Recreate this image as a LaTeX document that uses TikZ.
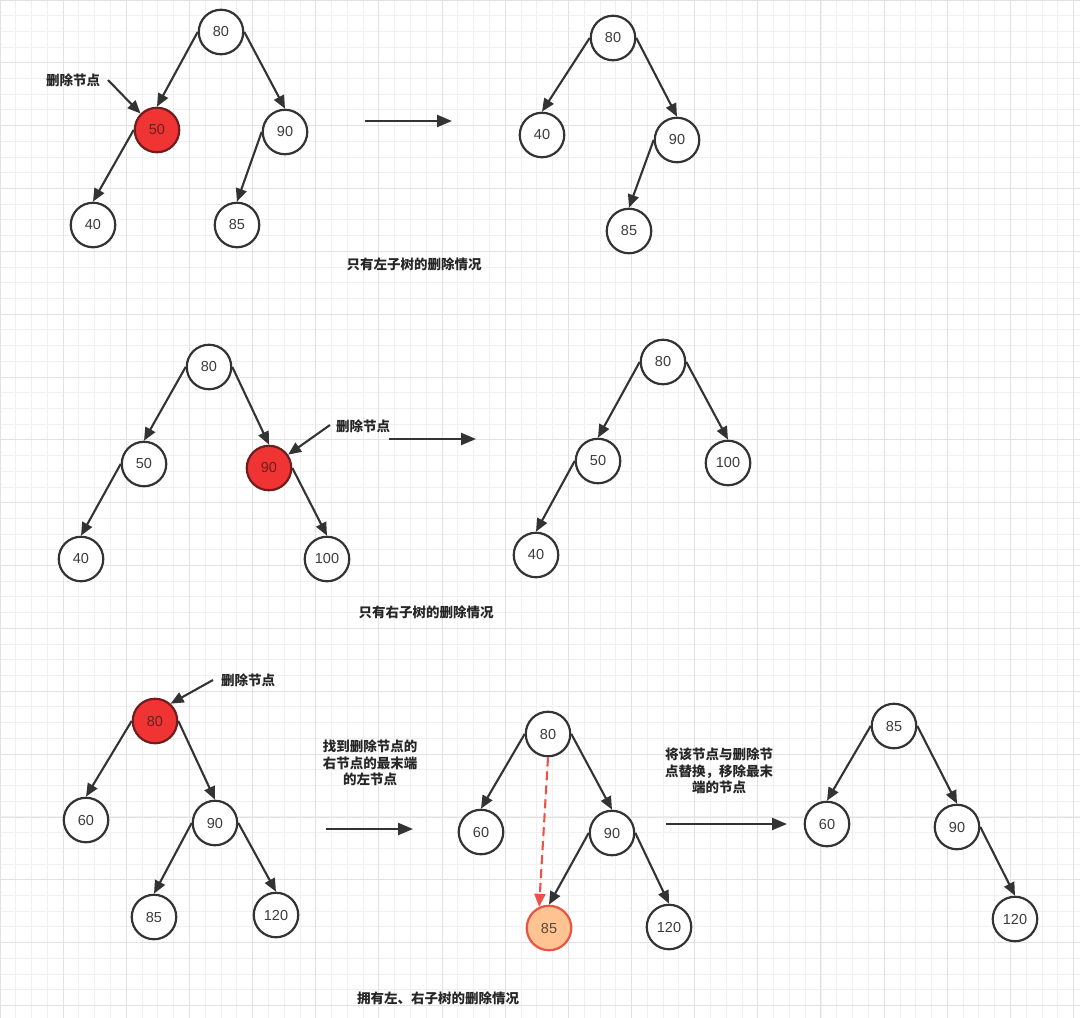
\documentclass[tikz,border=0pt]{standalone}
\usepackage{fontspec}
\setmainfont{Liberation Sans}
\newfontfamily\cjk{Noto Sans CJK SC}
\usetikzlibrary{arrows.meta}
\definecolor{linegray}{RGB}{51,51,51}
\definecolor{numgray}{RGB}{60,60,60}
\definecolor{delred}{RGB}{240,52,52}
\definecolor{delborder}{RGB}{110,30,30}
\definecolor{lastfill}{RGB}{255,196,146}
\definecolor{lastborder}{RGB}{236,82,70}
\definecolor{minorgrid}{RGB}{240,240,240}
\definecolor{majorgrid}{RGB}{226,226,226}
\begin{document}
\begin{tikzpicture}[x=1pt,y=-1pt,
	tnode/.style={circle,draw=linegray,line width=2.2pt,fill=white,minimum size=44.5pt,inner sep=0pt,text=numgray,font=\fontsize{14.5}{14.5}\selectfont},
	delnode/.style={tnode,fill=delred,draw=delborder,text=delborder},
	lastnode/.style={tnode,fill=lastfill,draw=lastborder,text=numgray!80!brown},
	link/.style={draw=linegray,line width=2.1pt,-{Triangle[length=13pt,width=11pt]}},
	move/.style={draw=linegray,line width=2.3pt,-{Triangle[length=15pt,width=12pt]}},
	note/.style={text=black!85,font=\cjk\bfseries\fontsize{13.5}{16.5}\selectfont,align=center,inner sep=0pt}]
	\useasboundingbox (0,0) rectangle (1080,1018);
	% background grid
	\foreach \i in {0,...,68} \draw[minorgrid,line width=1pt] (\i*15.79,0) -- (\i*15.79,1018);
	\foreach \j in {0,...,64} \draw[minorgrid,line width=1pt] (0,\j*15.71) -- (1080,\j*15.71);
	\foreach \i in {0,...,17} \draw[majorgrid,line width=1pt] (\i*63.15,0) -- (\i*63.15,1018);
	\foreach \j in {0,...,16} \draw[majorgrid,line width=1pt] (0,\j*62.85) -- (1080,\j*62.85);

	% only left subtree
	\node[tnode] (a80) at (221,32) {80};
	\node[delnode] (a50) at (157,130) {50};
	\node[tnode] (a90) at (285,132) {90};
	\node[tnode] (a40) at (93,225) {40};
	\node[tnode] (a85) at (237,225) {85};
	\draw[link] (a80.west) -- (a50.north);
	\draw[link] (a80.east) -- (a90.north);
	\draw[link] (a50.west) -- (a40.north);
	\draw[link] (a90.west) -- (a85.north);
	\node[note] (del1) at (73,80) {删除节点};
	\coordinate (del1s) at (108,80);
	\draw[link] (del1s) -- (a50.135);
	\coordinate (m1s) at (365,121);
	\coordinate (m1t) at (452,121);
	\draw[move] (m1s) -- (m1t);
	\node[tnode] (b80) at (613,38) {80};
	\node[tnode] (b40) at (542,135) {40};
	\node[tnode] (b90) at (677,140) {90};
	\node[tnode] (b85) at (629,231) {85};
	\draw[link] (b80.west) -- (b40.north);
	\draw[link] (b80.east) -- (b90.north);
	\draw[link] (b90.west) -- (b85.north);
	\node[note] (cap1) at (414,264) {只有左子树的删除情况};

	% only right subtree
	\node[tnode] (c80) at (209,367) {80};
	\node[tnode] (c50) at (144,464) {50};
	\node[delnode] (c90) at (269,468) {90};
	\node[tnode] (c40) at (81,559) {40};
	\node[tnode] (c100) at (327,559) {100};
	\draw[link] (c80.west) -- (c50.north);
	\draw[link] (c80.east) -- (c90.north);
	\draw[link] (c50.west) -- (c40.north);
	\draw[link] (c90.east) -- (c100.north);
	\node[note] (del2) at (363,426) {删除节点};
	\coordinate (del2s) at (330,425);
	\draw[link] (del2s) -- (c90.35);
	\coordinate (m2s) at (389,439);
	\coordinate (m2t) at (476,439);
	\draw[move] (m2s) -- (m2t);
	\node[tnode] (d80) at (663,362) {80};
	\node[tnode] (d50) at (598,461) {50};
	\node[tnode] (d100) at (728,463) {100};
	\node[tnode] (d40) at (536,555) {40};
	\draw[link] (d80.west) -- (d50.north);
	\draw[link] (d80.east) -- (d100.north);
	\draw[link] (d50.west) -- (d40.north);
	\node[note] (cap2) at (426,612) {只有右子树的删除情况};

	% both subtrees
	\node[delnode] (e80) at (155,721) {80};
	\node[tnode] (e60) at (86,820) {60};
	\node[tnode] (e90) at (215,823) {90};
	\node[tnode] (e85) at (154,917) {85};
	\node[tnode] (e120) at (276,915) {120};
	\draw[link] (e80.west) -- (e60.north);
	\draw[link] (e80.east) -- (e90.north);
	\draw[link] (e90.west) -- (e85.north);
	\draw[link] (e90.east) -- (e120.north);
	\node[note] (del3) at (248,680) {删除节点};
	\coordinate (del3s) at (213,680);
	\draw[link] (del3s) -- (e80.48);
	\node[note] (find) at (370,763) {找到删除节点的\\右节点的最末端\\的左节点};
	\coordinate (m3s) at (326,829);
	\coordinate (m3t) at (413,829);
	\draw[move] (m3s) -- (m3t);
	\node[tnode] (f80) at (548,734) {80};
	\node[tnode] (f60) at (481,832) {60};
	\node[tnode] (f90) at (612,833) {90};
	\node[lastnode] (f85) at (549,928) {85};
	\node[tnode] (f120) at (669,927) {120};
	\draw[link] (f80.west) -- (f60.north);
	\draw[link] (f80.east) -- (f90.north);
	\draw[link] (f90.west) -- (f85.north);
	\draw[link] (f90.east) -- (f120.north);
	\draw[link,draw=lastborder,fill=lastborder,dash pattern=on 9pt off 5pt] (f80.south) -- (f85.115);
	\node[note] (swap) at (719,771) {将该节点与删除节\\点替换，移除最末\\端的节点};
	\coordinate (m4s) at (666,824);
	\coordinate (m4t) at (787,824);
	\draw[move] (m4s) -- (m4t);
	\node[tnode] (g85) at (894,726) {85};
	\node[tnode] (g60) at (827,824) {60};
	\node[tnode] (g90) at (957,827) {90};
	\node[tnode] (g120) at (1015,919) {120};
	\draw[link] (g85.west) -- (g60.north);
	\draw[link] (g85.east) -- (g90.north);
	\draw[link] (g90.east) -- (g120.north);
	\node[note] (cap3) at (438,998) {拥有左、右子树的删除情况};
\end{tikzpicture}
\end{document}
